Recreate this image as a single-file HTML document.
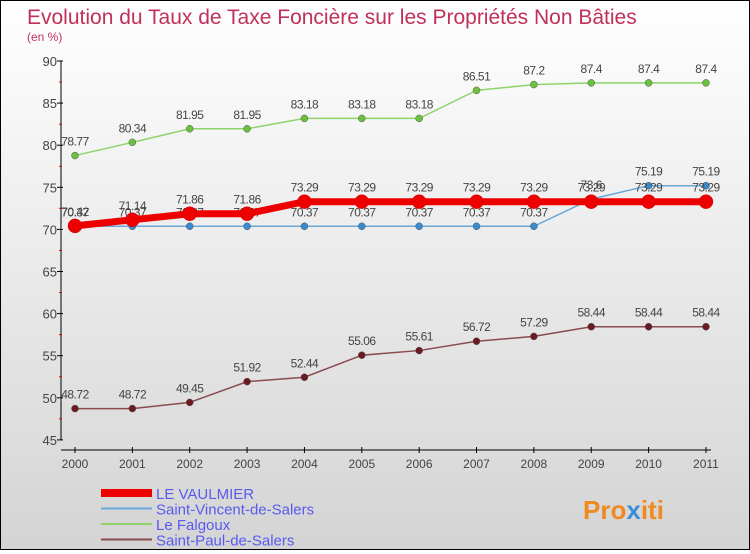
<!DOCTYPE html>
<html><head><meta charset="utf-8"><style>
body{margin:0;width:750px;height:550px;overflow:hidden;font-family:"Liberation Sans",sans-serif}
#c{position:absolute;left:0;top:0;width:748px;height:548px;border:1px solid #000;background:linear-gradient(#fff,#d4d4d4)}
</style></head><body>
<div id="c">
<svg id="s" width="748" height="548">
<text x="26" y="23" font-size="21" fill="#c0305a">Evolution du Taux de Taxe Foncière sur les Propriétés Non Bâties</text>
<text x="26" y="40" font-size="12" fill="#c0305a">(en %)</text>
<g id="ax"></g><g id="ser"></g><g id="leg"></g>
<text x="582" y="518" font-size="26" font-weight="bold" fill="#f08a20">Pro<tspan fill="#3a8fd8">x</tspan>iti</text>
</svg></div>
<script>
const years=["2000","2001","2002","2003","2004","2005","2006","2007","2008","2009","2010","2011"];
const yTicks=[45,50,55,60,65,70,75,80,85,90];
const vaulmier=[70.42,71.14,71.86,71.86,73.29,73.29,73.29,73.29,73.29,73.29,73.29,73.29];
const vincent=[70.37,70.37,70.37,70.37,70.37,70.37,70.37,70.37,70.37,73.6,75.19,75.19];
const falgoux=[78.77,80.34,81.95,81.95,83.18,83.18,83.18,86.51,87.2,87.4,87.4,87.4];
const paul=[48.72,48.72,49.45,51.92,52.44,55.06,55.61,56.72,57.29,58.44,58.44,58.44];
const NS="http://www.w3.org/2000/svg";
const X=i=>74+i*57.36, Y=v=>60+(90-v)*8.42;
function mk(t,a,p,txt){const e=document.createElementNS(NS,t);for(const k in a)e.setAttribute(k,a[k]);if(txt!==undefined)e.textContent=txt;p.appendChild(e);return e;}
const ax=document.getElementById('ax');
let e=mk('line',{x1:60,y1:Y(90),x2:60,y2:Y(45),stroke:'#000'},ax);


e=mk('line',{x1:60,y1:449,x2:X(11)+5,y2:449,stroke:'#000'},ax);


yTicks.forEach(v=>{mk('line',{x1:56,x2:62,y1:Y(v),y2:Y(v),stroke:'#000'},ax);
if(v<90)mk('line',{x1:58,x2:61,y1:Y(v+2.5),y2:Y(v+2.5),stroke:'#e00'},ax);
e=mk('text',{x:56,y:Y(v)+5,'text-anchor':'end','font-size':13,fill:'#444'},ax,String(v));

});
years.forEach((y,i)=>{mk('line',{x1:X(i),x2:X(i),y1:446,y2:452,stroke:'#000'},ax);
e=mk('text',{x:X(i),y:467,'text-anchor':'middle','font-size':12,fill:'#444'},ax,y);

});
const ser=document.getElementById('ser');
const S=[[falgoux,'#8fd46a','#6cc040',1.5,3.5,'falgoux'],[paul,'#8a4a50','#6a1a22',1.5,3.5,'saint-paul'],[vincent,'#6aa8d8','#3a8ad0',1.5,3.5,'saint-vincent'],[vaulmier,'#e00','#e00',7,7,'vaulmier']];
S.forEach(([d,lc,pc,w,r,n])=>{const g=mk('g',{},ser);
e=mk('polyline',{points:d.map((v,i)=>X(i)+','+Y(v)).join(' '),fill:'none',stroke:lc,'stroke-width':w},g);


d.forEach((v,i)=>{e=mk('circle',{cx:X(i),cy:Y(v),r:r,fill:pc,stroke:n=='vaulmier'?'#c00':'#555','stroke-width':0.5},g);


e=mk('text',{x:X(i),y:Y(v)-10,'text-anchor':'middle','font-size':12,fill:'#444','letter-spacing':'-0.5'},g,String(v));

});});
const leg=document.getElementById('leg');
[['LE VAULMIER','#e00',8],['Saint-Vincent-de-Salers','#6aa8d8',2],['Le Falgoux','#8fd46a',2],['Saint-Paul-de-Salers','#8a4a50',2]].forEach(([t,c,w],i)=>{const yy=492+i*15.5;
e=mk('line',{x1:100,x2:151,y1:yy,y2:yy,stroke:c,'stroke-width':w},leg);


e=mk('text',{x:155,y:yy+6,'font-size':15,fill:'#5a5af0'},leg,t);

});
</script></body></html>
